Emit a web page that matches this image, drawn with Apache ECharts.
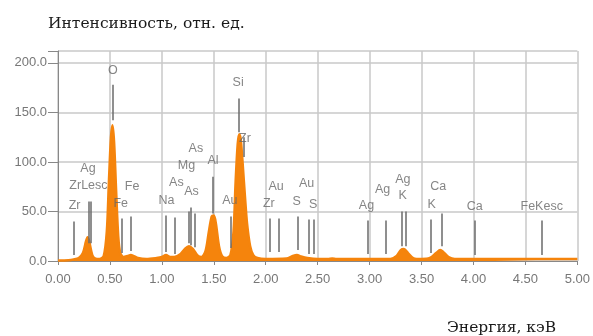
<!DOCTYPE html>
<html><head><meta charset="utf-8">
<script src="https://cdn.jsdelivr.net/npm/echarts@6/dist/echarts.min.js"></script>
<style>html,body{margin:0;padding:0;background:#fff}#c{width:593px;height:336px}</style>
</head><body><div id="c"></div>
<script>
// Spectrum (energy keV, intensity)
var energy = [0.00,0.10,0.15,0.20,0.24,0.27,0.285,0.30,0.33,0.36,0.40,0.44,0.47,0.49,0.51,0.525,0.54,0.56,0.58,0.60,0.63,0.67,0.70,0.73,0.77,0.85,0.95,1.00,1.04,1.08,1.12,1.18,1.22,1.26,1.30,1.34,1.38,1.42,1.45,1.48,1.50,1.52,1.55,1.58,1.62,1.66,1.69,1.71,1.73,1.745,1.76,1.78,1.80,1.82,1.85,1.88,1.92,2.00,2.20,2.26,2.30,2.34,2.40,2.50,2.60,2.64,2.68,2.80,3.20,3.26,3.30,3.33,3.37,3.42,3.50,3.58,3.64,3.68,3.71,3.76,3.82,4.20,5.00];
var counts = [0.5,0.8,1.5,3,8,20,24,20,6,2.5,2,5,30,80,125,137,120,70,25,8,4,5,6,5,3,2,3,4,6,4,4,7,12,15,12,6,4,10,28,45,46,38,15,5,3,6,30,80,118,128,122,95,65,38,15,6,3,2,2.5,5,6,4.5,3,2,2,2.6,2,2,2,5,11,12,8,3,2,3,8,11,9,4,2,2,2];
// Marker lines (energy, top value, bottom value)
var markE   = [0.151,0.30,0.311,0.525,0.615,0.705,1.041,1.12,1.254,1.282,1.317,1.486,1.66,1.740,1.785,2.042,2.123,2.307,2.41,2.464,2.984,3.151,3.313,3.348,3.59,3.691,4.012,4.66];
var markTop = [40,60,60,178,43,45,46,44,50,54,48,85,45,164,125,43,43,45,42,42,41,41,50,50,42,48,41,41];
var markBot = [6,18,18,142,8,10,9,7,18,16,14,48,13,130,105,9,9,11,7,7,7,7,15,15,8,15,6,6];
// Element labels (text, energy, value)
var labText = ['Zr','ZrLesc','Ag','Fe','Fe','O','Na','As','As','Mg','As','Al','Au','Zr','Si','Zr','Au','S','Au','S','Ag','Ag','Ag','K','K','Ca','Ca','FeKesc'];
var labE    = [0.16,0.293,0.289,0.604,0.713,0.527,1.044,1.14,1.285,1.237,1.327,1.493,1.654,1.80,1.734,2.03,2.10,2.297,2.393,2.457,2.97,3.125,3.32,3.318,3.597,3.66,4.013,4.657];
var labV    = [56,76,93.5,58,75.6,192,60.8,79,70.6,96.8,113.7,101.9,60.8,123.7,179.8,57.5,75.6,59.8,77.7,56.5,55.5,72.6,82.7,65.9,57.2,75,55,55];
var yTicks = [0,50,100,150,200];

var spec = energy.map(function(e,i){return [e,counts[i]];});
var mlData = markE.map(function(e,i){return [{coord:[e,markTop[i]]},{coord:[e,markBot[i]]}];});
var labData = labE.map(function(e,i){return {value:[e,labV[i]],name:labText[i]};});

var chart = echarts.init(document.getElementById('c'));
chart.setOption({
  animation:false,
  backgroundColor:'#fff',
  title:[
    {text:'Интенсивность, отн. ед.',left:43,top:11,textStyle:{fontFamily:'DejaVu Serif',fontSize:15.5,fontWeight:'normal',color:'#1a1a1a'}},
    {text:'Энергия, кэВ',left:442,top:315,textStyle:{fontFamily:'DejaVu Serif',fontSize:15.5,fontWeight:'normal',color:'#1a1a1a'}}
  ],
  grid:{left:58,right:15,top:51,bottom:75},
  xAxis:{type:'value',min:0,max:5,interval:0.5,
    axisLine:{show:true,onZero:false,lineStyle:{color:'#888',width:1}},
    axisTick:{show:true,length:4,lineStyle:{color:'#888'}},
    axisLabel:{color:'#777',fontSize:13,fontFamily:'Liberation Sans',margin:12,formatter:function(v){return v.toFixed(2);}},
    splitLine:{show:true,lineStyle:{color:'#c8c8c8',width:1.5}}
  },
  yAxis:{type:'value',min:0,max:212,interval:50,
    axisLine:{show:true,lineStyle:{color:'#888',width:1}},
    axisTick:{show:true,length:10,lineStyle:{color:'#888'}},
    axisLabel:{color:'#777',fontSize:13,fontFamily:'Liberation Sans',margin:11,formatter:function(v){return yTicks.indexOf(v)>=0?v.toFixed(1):'';}},
    splitLine:{show:true,lineStyle:{color:'#c8c8c8',width:1.5}}
  },
  series:[
    {type:'line',data:spec,symbol:'none',smooth:0.3,
     lineStyle:{color:'#F5840C',width:2.5},areaStyle:{color:'#F5840C',opacity:1},
     markLine:{silent:true,symbol:['none','none'],label:{show:false},
       lineStyle:{color:'#6a6a6a',width:1.5,type:'solid'},data:mlData},
     z:2},
    {type:'scatter',data:labData,symbolSize:0,silent:true,
     label:{show:true,position:'inside',formatter:function(p){return p.name;},color:'#666',fontSize:12.5,fontFamily:'Liberation Sans'},
     z:5}
  ]
});
</script></body></html>
